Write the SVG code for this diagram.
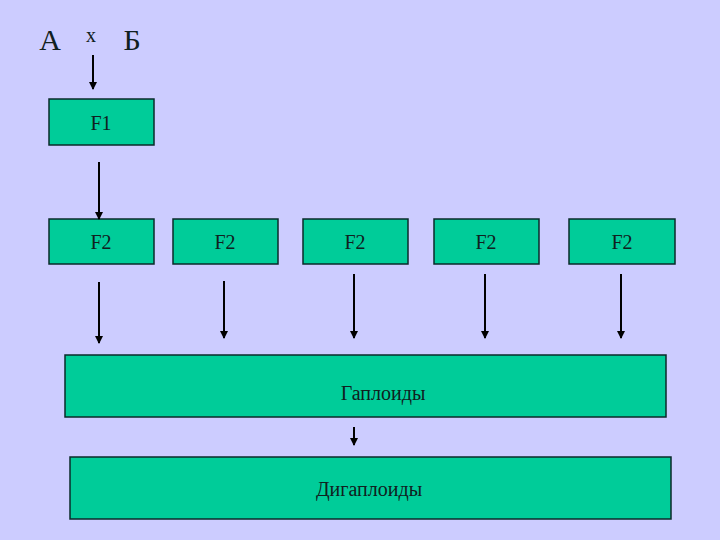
<svg xmlns="http://www.w3.org/2000/svg" width="720" height="540" viewBox="0 0 720 540">
<style>
.box{fill:#00CC99;stroke:#0a2a2a;stroke-width:1.5}
.t{font-family:"Liberation Serif",serif;font-size:20px;fill:#102020;text-anchor:middle}
.c line{stroke:#000;stroke-width:2;marker-end:url(#a)}
</style>
<defs><marker id="a" markerWidth="8" markerHeight="8" refX="7" refY="4" orient="auto" markerUnits="userSpaceOnUse"><path d="M0,0 L8,4 L0,8 Z" fill="#000"/></marker></defs>
<rect width="720" height="540" fill="#CCCCFF"/>
<g id="top"><text x="50" y="50" class="t" style="font-size:30px">А</text><text x="91" y="42" class="t">x</text><text x="132" y="50" class="t" style="font-size:30px">Б</text></g>
<g id="f1"><rect class="box" x="49" y="99" width="105" height="46"/><text class="t" x="101" y="130">F1</text></g>
<g id="f2a"><rect class="box" x="49" y="219" width="105" height="45"/><text class="t" x="101" y="249">F2</text></g>
<g id="f2b"><rect class="box" x="173" y="219" width="105" height="45"/><text class="t" x="225" y="249">F2</text></g>
<g id="f2c"><rect class="box" x="303" y="219" width="105" height="45"/><text class="t" x="355" y="249">F2</text></g>
<g id="f2d"><rect class="box" x="434" y="219" width="105" height="45"/><text class="t" x="486" y="249">F2</text></g>
<g id="f2e"><rect class="box" x="569" y="219" width="106" height="45"/><text class="t" x="622" y="249">F2</text></g>
<g id="hap"><rect class="box" x="65" y="355" width="601" height="62"/><text class="t" x="383" y="400">Гаплоиды</text></g>
<g id="dihap"><rect class="box" x="70" y="457" width="601" height="62"/><text class="t" x="369" y="496">Дигаплоиды</text></g>
<g class="c">
<line x1="93" y1="55" x2="93" y2="89"/>
<line x1="99" y1="162" x2="99" y2="219"/>
<line x1="99" y1="282" x2="99" y2="343"/>
<line x1="224" y1="281" x2="224" y2="338"/>
<line x1="354" y1="274" x2="354" y2="338"/>
<line x1="485" y1="274" x2="485" y2="338"/>
<line x1="621" y1="274" x2="621" y2="338"/>
<line x1="354" y1="427" x2="354" y2="445"/>
</g>
</svg>
